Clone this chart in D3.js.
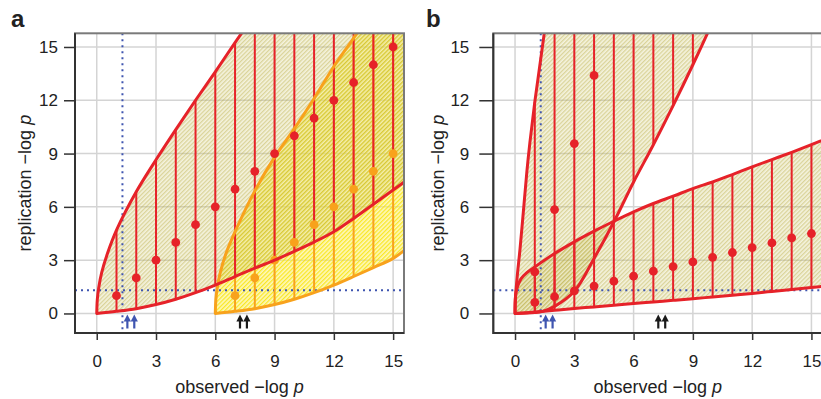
<!DOCTYPE html>
<html>
<head>
<meta charset="utf-8">
<script src="https://cdn.jsdelivr.net/npm/d3@7"></script>
<style>
  body { margin: 0; background: #fff; }
  svg text { font-family: "Liberation Sans", Arial, Helvetica, sans-serif; fill: #222; }
</style>
</head>
<body>
<svg id="chart" width="821" height="399"></svg>
<script>
// ---- shared axis values ----
const xTicks = [0, 3, 6, 9, 12, 15];
const yTicks = [0, 3, 6, 9, 12, 15];
const sigLevel = 1.301;              // -log10(0.05), dotted guides
const blueArrowX = [1.55, 1.9];
const blackArrowX = [7.25, 7.6];

// ---- panel a: red band (observed = replication) ----
const aRedUpX = [0, 0.03, 0.1, 0.25, 0.55, 1, 2, 3, 4, 5, 6, 7, 8, 9, 10, 11, 12, 13, 14, 15, 16];
const aRedUpY = [0, 0.8, 1.45, 2.3, 3.4, 4.69, 6.85, 8.65, 10.35, 12.0, 13.6, 15.25, 16.85, 18.4, 19.95, 21.5, 23.0, 24.5, 26.0, 27.5, 29.0];
const aRedLoX = [0, 1, 2, 3, 4, 5, 6, 7, 8, 9, 10, 11, 12, 13, 14, 15, 16];
const aRedLoY = [0, 0.12, 0.27, 0.5, 0.8, 1.17, 1.6, 2.08, 2.55, 3.0, 3.5, 4.02, 4.6, 5.35, 6.15, 6.95, 7.75];
const aRedVx = [1, 2, 3, 4, 5, 6, 7, 8, 9, 10, 11, 12, 13, 14, 15];
const aRedPtX = [1, 2, 3, 4, 5, 6, 7, 8, 9, 10, 11, 12, 13, 14, 15];
const aRedPtY = [1, 2, 3, 4, 5, 6, 7, 8, 9, 10, 11, 12, 13, 14, 15];

// ---- panel a: orange band (shifted) ----
const aOrgUpX = [6, 6.03, 6.1, 6.25, 6.55, 7, 8, 9, 10, 11, 12, 13, 14, 15, 16];
const aOrgUpY = [0, 0.8, 1.45, 2.3, 3.4, 4.6, 6.9, 8.8, 10.4, 12.1, 13.9, 15.5, 17.2, 18.9, 20.6];
const aOrgLoX = [6, 7, 8, 9, 10, 11, 12, 13, 14, 15, 16];
const aOrgLoY = [0, 0.12, 0.27, 0.5, 0.8, 1.17, 1.6, 2.08, 2.58, 3.1, 3.95];
const aOrgVx = [7, 8, 9, 10, 11, 12, 13, 14, 15];
const aOrgPtX = [7, 8, 9, 10, 11, 12, 13, 14, 15];
const aOrgPtY = [1, 2, 3, 4, 5, 6, 7, 8, 9];

// ---- panel b: steep band ----
const bR1UpX = [0, 0.03, 0.12, 0.25, 0.45, 0.6, 0.75, 1, 1.5, 2, 3, 4, 5, 6, 7, 8, 9, 10];
const bR1UpY = [0, 1.0, 2.2, 3.6, 6.1, 8.0, 9.6, 11.9, 15.94, 20.2, 28.6, 37, 45.4, 53.8, 62.2, 70.6, 79, 87.4];
const bR1LoX = [0, 1, 1.4, 2, 3, 4, 5, 6, 7, 8, 9, 10];
const bR1LoY = [0, 0.05, 0.12, 0.4, 1.25, 3.1, 5.15, 7.4, 9.5, 11.7, 14.0, 16.4];
const bR1Vx = [1, 2, 3, 4, 5, 6, 7, 8, 9];
const bPtAX = [1, 2, 3, 4];
const bPtAY = [2.34, 5.85, 9.56, 13.4];

// ---- panel b: shallow band ----
const bR2UpX = [0, 0.01, 0.08, 0.3, 0.6, 1, 2, 3, 4, 5, 6, 7, 8, 9, 10, 11, 12, 13, 14, 15, 16];
const bR2UpY = [0, 0.8, 1.35, 1.95, 2.3, 2.62, 3.37, 4.03, 4.63, 5.19, 5.72, 6.19, 6.6, 7.03, 7.4, 7.82, 8.25, 8.66, 9.07, 9.5, 9.95];
const bR2LoX = [0, 1, 2, 3, 4, 5, 6, 7, 8, 9, 10, 11, 12, 13, 14, 15, 16];
const bR2LoY = [0, 0.08, 0.18, 0.28, 0.37, 0.46, 0.56, 0.65, 0.74, 0.83, 0.93, 1.03, 1.13, 1.24, 1.35, 1.46, 1.57];
const bR2Vx = [1, 2, 3, 4, 5, 6, 7, 8, 9, 10, 11, 12, 13, 14, 15];
const bPtBX = [1, 2, 3, 4, 5, 6, 7, 8, 9, 10, 11, 12, 13, 14, 15];
const bPtBY = [0.62, 0.94, 1.27, 1.54, 1.82, 2.1, 2.38, 2.64, 2.9, 3.16, 3.43, 3.71, 3.97, 4.25, 4.5];

const RED = '#e62229', ORANGE = '#f8a21c', BLUE = '#3f55b0';

const svg = d3.select('#chart');
const defs = svg.append('defs');

// hatched fills, semi transparent so overlaps get darker
function hatch(id, base, stripe) {
  const p = defs.append('pattern').attr('id', id)
    .attr('patternUnits', 'userSpaceOnUse')
    .attr('width', 3).attr('height', 3)
    .attr('patternTransform', 'rotate(45)');
  p.append('rect').attr('width', 3).attr('height', 3).attr('fill', base);
  p.append('rect').attr('width', 1.3).attr('height', 3).attr('fill', stripe);
}
hatch('hatchOlive', 'rgba(215,205,120,0.24)', 'rgba(178,166,55,0.42)');
hatch('hatchYellow', 'rgba(252,240,110,0.45)', 'rgba(248,226,0,0.8)');

const xDomain = [-1.1, 15.55];
const yDomain = [-1.1, 15.77];
const plotTop = 33.3, plotBottom = 333, plotW = 329;

const panels = [
  {
    key: 'a', left: 75, yTickLen: 11, yPad: 6, yTitleX: 31, labelX: 11,
    regions: [
      { upX: aOrgUpX, upY: aOrgUpY, loX: aOrgLoX, loY: aOrgLoY, vx: aOrgVx, fill: 'url(#hatchYellow)', color: ORANGE, ptX: aOrgPtX, ptY: aOrgPtY },
      { upX: aRedUpX, upY: aRedUpY, loX: aRedLoX, loY: aRedLoY, vx: aRedVx, fill: 'url(#hatchOlive)', color: RED, ptX: aRedPtX, ptY: aRedPtY }
    ]
  },
  {
    key: 'b', left: 493.3, yTickLen: 14, yPad: 10, yTitleX: 444, labelX: 426,
    regions: [
      { upX: bR1UpX, upY: bR1UpY, loX: bR1LoX, loY: bR1LoY, vx: bR1Vx, fill: 'url(#hatchOlive)', color: RED, ptX: bPtAX, ptY: bPtAY },
      { upX: bR2UpX, upY: bR2UpY, loX: bR2LoX, loY: bR2LoY, vx: bR2Vx, fill: 'url(#hatchOlive)', color: RED, ptX: bPtBX, ptY: bPtBY }
    ]
  }
];

panels.forEach(p => {
  const x = d3.scaleLinear().domain(xDomain).range([p.left, p.left + plotW]);
  const y = d3.scaleLinear().domain(yDomain).range([plotBottom, plotTop]);
  const g = svg.append('g');

  const clipId = 'clip-' + p.key;
  defs.append('clipPath').attr('id', clipId).append('rect')
    .attr('x', p.left).attr('y', plotTop)
    .attr('width', plotW).attr('height', plotBottom - plotTop);

  // grid
  g.append('g').selectAll('line').data(xTicks).join('line')
    .attr('x1', d => x(d)).attr('x2', d => x(d))
    .attr('y1', plotTop).attr('y2', plotBottom)
    .attr('stroke', '#d4d4d4').attr('stroke-width', 1.5);
  g.append('g').selectAll('line').data(yTicks).join('line')
    .attr('x1', p.left).attr('x2', p.left + plotW)
    .attr('y1', d => y(d)).attr('y2', d => y(d))
    .attr('stroke', '#d4d4d4').attr('stroke-width', 1.5);

  const body = g.append('g').attr('clip-path', `url(#${clipId})`);

  const line = d3.line().x(d => x(d[0])).y(d => y(d[1])).curve(d3.curveCatmullRom.alpha(0.5));
  const outline = r => {
    const up = d3.zip(r.upX, r.upY);
    const lo = d3.zip(r.loX, r.loY).reverse();
    return line(up) + line(lo).replace('M', 'L') + 'Z';
  };

  // fills
  p.regions.forEach(r => {
    body.append('path').attr('d', outline(r)).attr('fill', r.fill).attr('stroke', 'none');
  });

  // significance guides
  body.append('line')
    .attr('x1', x(sigLevel)).attr('x2', x(sigLevel))
    .attr('y1', plotTop).attr('y2', plotBottom)
    .attr('stroke', BLUE).attr('stroke-width', 2).attr('stroke-dasharray', '2,4');
  body.append('line')
    .attr('x1', p.left).attr('x2', p.left + plotW)
    .attr('y1', y(sigLevel)).attr('y2', y(sigLevel))
    .attr('stroke', BLUE).attr('stroke-width', 2).attr('stroke-dasharray', '2,4');

  // interval segments at each integer
  p.regions.forEach(r => {
    body.append('g').selectAll('line').data(r.vx).join('line')
      .attr('x1', d => x(d)).attr('x2', d => x(d))
      .attr('y1', d => y(r.loY[r.loX.indexOf(d)]))
      .attr('y2', d => y(r.upY[r.upX.indexOf(d)]))
      .attr('stroke', r.color).attr('stroke-width', 2);
  });

  // band outlines + points
  p.regions.forEach(r => {
    body.append('path').attr('d', outline(r))
      .attr('fill', 'none').attr('stroke', r.color)
      .attr('stroke-width', 3).attr('stroke-linejoin', 'round');
    body.append('g').selectAll('circle').data(d3.zip(r.ptX, r.ptY)).join('circle')
      .attr('cx', d => x(d[0])).attr('cy', d => y(d[1])).attr('r', 4.4)
      .attr('fill', r.color);
  });

  // little arrows under the bands
  const arrows = blueArrowX.map(v => [v, BLUE]).concat(blackArrowX.map(v => [v, '#1a1a1a']));
  arrows.forEach(([v, c]) => {
    const ax = x(v);
    g.append('line').attr('x1', ax).attr('x2', ax).attr('y1', 328.5).attr('y2', 319)
      .attr('stroke', c).attr('stroke-width', 2.2);
    g.append('path').attr('d', `M${ax - 3.6},${321.5}L${ax + 3.6},${321.5}L${ax},${314.5}Z`)
      .attr('fill', c);
  });

  // box
  g.append('rect').attr('x', p.left).attr('y', plotTop)
    .attr('width', plotW).attr('height', plotBottom - plotTop)
    .attr('fill', 'none').attr('stroke', '#7a7a7a').attr('stroke-width', 2);
  g.append('path').attr('d', `M${p.left},${plotTop}V${plotBottom}H${p.left + plotW}`)
    .attr('fill', 'none').attr('stroke', '#333').attr('stroke-width', 2);

  // axes
  const xa = g.append('g').attr('transform', `translate(0,${plotBottom})`)
    .call(d3.axisBottom(x).tickValues(xTicks).tickSize(7).tickPadding(15));
  const ya = g.append('g').attr('transform', `translate(${p.left},0)`)
    .call(d3.axisLeft(y).tickValues(yTicks).tickSize(p.yTickLen).tickPadding(p.yPad));
  [xa, ya].forEach(a => {
    a.attr('font-family', null);
    a.select('.domain').remove();
    a.selectAll('.tick line').attr('stroke', '#333').attr('stroke-width', 1.5);
    a.selectAll('.tick text').style('font-size', '17px').attr('fill', '#222');
  });

  // titles
  const xt = g.append('text').attr('x', p.left + plotW / 2).attr('y', 393)
    .attr('text-anchor', 'middle').style('font-size', '18px');
  xt.append('tspan').text('observed \u2212log ');
  xt.append('tspan').style('font-style', 'italic').text('p');

  const yt = g.append('text')
    .attr('transform', `translate(${p.yTitleX},${(plotTop + plotBottom) / 2}) rotate(-90)`)
    .attr('text-anchor', 'middle').style('font-size', '18px');
  yt.append('tspan').text('replication \u2212log ');
  yt.append('tspan').style('font-style', 'italic').text('p');

  g.append('text').attr('x', p.labelX).attr('y', 27)
    .style('font-size', '24px').style('font-weight', 'bold').text(p.key);
});
</script>
</body>
</html>
